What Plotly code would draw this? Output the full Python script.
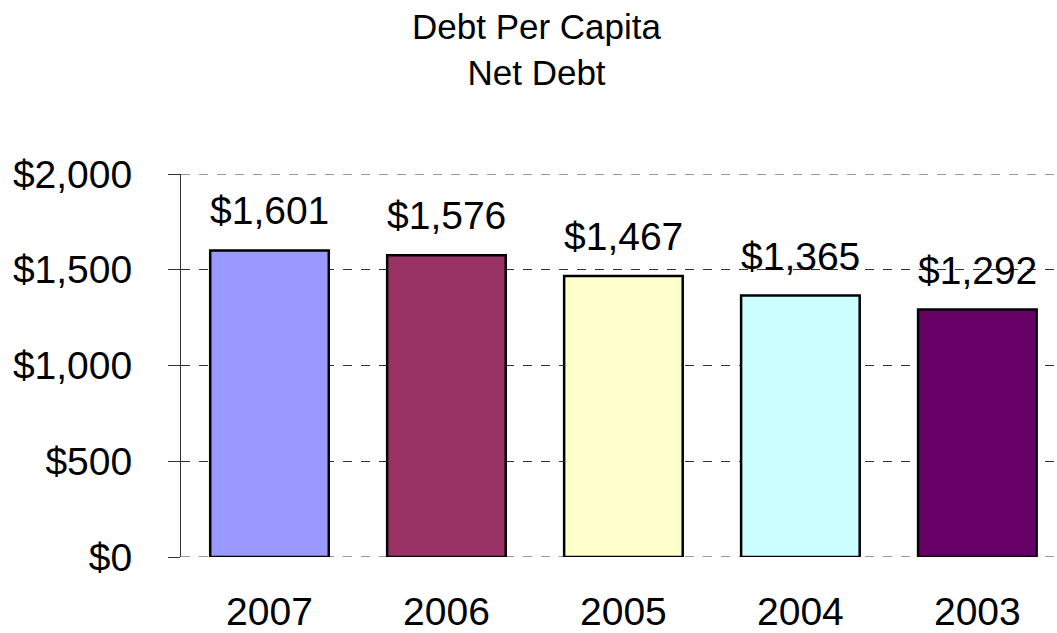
import plotly.graph_objects as go

years = ["2007", "2006", "2005", "2004", "2003"]
values = [1601, 1576, 1467, 1365, 1292]
labels = ["$1,601", "$1,576", "$1,467", "$1,365", "$1,292"]
colors = ["#9999FF", "#993366", "#FFFFCC", "#CCFFFF", "#660066"]
ytickvals = [0, 500, 1000, 1500, 2000]
yticktext = ["$0", "$500", "$1,000", "$1,500", "$2,000"]

FONT = "Liberation Sans, Arial, sans-serif"
FS = 39
GRID = "#333333"

fig = go.Figure()
fig.add_trace(go.Bar(
    x=years, y=values,
    marker=dict(color=colors, line=dict(color="black", width=2.5)),
    width=0.67,
    hoverinfo="skip",
))

for i, (v, t) in enumerate(zip(values, labels)):
    fig.add_annotation(x=i, y=v, xref="x", yref="y", text=t, showarrow=False,
                       yanchor="bottom", yshift=16,
                       font=dict(family=FONT, size=FS, color="black"))

# edge gridlines (plotly hides grid lines on the range edges)
for yv in (ytickvals[0], ytickvals[-1]):
    fig.add_shape(type="line", xref="paper", yref="y", x0=0, x1=1, y0=yv, y1=yv,
                  line=dict(color=GRID, width=1, dash="dash"), layer="below")

fig.add_annotation(text="Debt Per Capita<br>Net Debt", xref="paper", yref="paper",
                   x=0.406, y=1.0, xanchor="center", yanchor="bottom", yshift=80,
                   showarrow=False, align="center",
                   font=dict(family=FONT, size=35, color="black"))

fig.update_layout(
    width=1057, height=633,
    margin=dict(l=181, r=0, t=174, b=74),
    paper_bgcolor="white", plot_bgcolor="white",
    showlegend=False,
    xaxis=dict(type="category", categoryorder="array", categoryarray=years,
               range=[-0.5, 4.45], showgrid=False, zeroline=False, showline=False,
               ticks="", ticklabelstandoff=28,
               tickfont=dict(family=FONT, size=FS, color="black")),
    yaxis=dict(range=[0, 2000], tickvals=ytickvals, ticktext=yticktext,
               showgrid=True, gridcolor=GRID, griddash="dash", gridwidth=1,
               zeroline=False, showline=True, linecolor=GRID, linewidth=1,
               ticks="outside", ticklen=12, tickcolor=GRID,
               ticklabelstandoff=28,
               tickfont=dict(family=FONT, size=FS, color="black")),
)

fig.write_html("out.html")
